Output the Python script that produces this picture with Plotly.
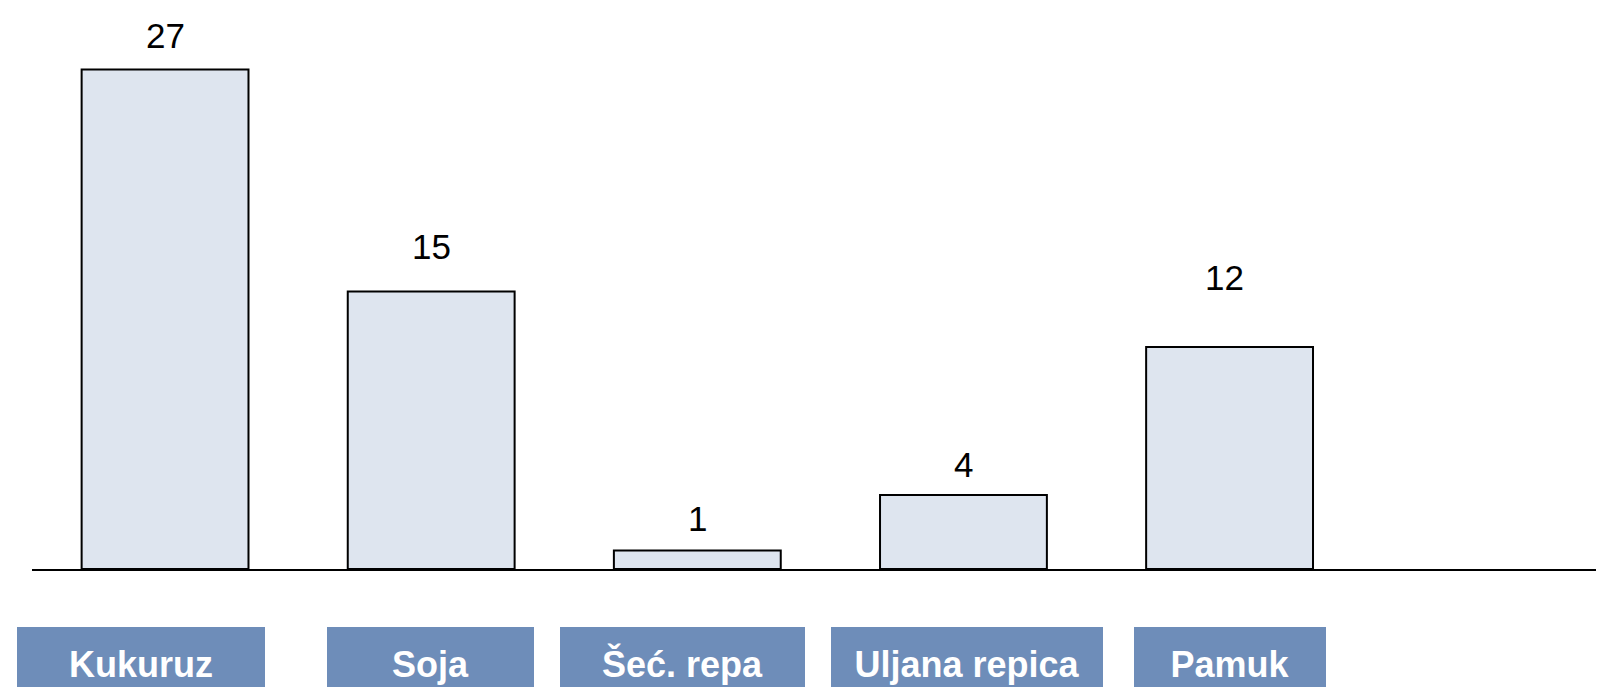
import plotly.graph_objects as go

# ---- data ----
categories = ["Kukuruz", "Soja", "Šeć. repa", "Uljana repica", "Pamuk"]
values = [27, 15, 1, 4, 12]

# ---- styling (label placement, not data) ----
value_label_lift = [34, 45, 32, 30, 69]      # px above bar top (text centre)
value_label_xshift = [0, 0, 0, 0, -5]
cat_box_width = [248, 207, 245, 272, 192]      # px
cat_box_xshift = [-24, -1, -15, 4, 0]          # px relative to bar centre

FONT = "Liberation Sans, Arial, sans-serif"

fig = go.Figure()
fig.add_trace(go.Bar(
    x=categories,
    y=values,
    width=0.627,
    marker=dict(color="#DEE5EF", line=dict(color="#000000", width=2)),
    hoverinfo="x+y",
))

annotations = []
for i, (c, v) in enumerate(zip(categories, values)):
    annotations.append(dict(
        x=c, y=v, xref="x", yref="y",
        text=str(v), showarrow=False,
        yanchor="middle", xanchor="center",
        yshift=value_label_lift[i], xshift=value_label_xshift[i],
        font=dict(family=FONT, size=35, color="#000000"),
    ))
    annotations.append(dict(
        x=c, y=0, xref="x", yref="paper",
        text="<b>" + c + "</b>", showarrow=False,
        yanchor="top", xanchor="center",
        yshift=-58, xshift=cat_box_xshift[i],
        width=cat_box_width[i], height=74,
        bgcolor="#6E8DB9", borderpad=0, borderwidth=0,
        align="center", valign="middle",
        font=dict(family=FONT, size=36, color="#FFFFFF"),
    ))

fig.update_layout(
    width=1604, height=687,
    margin=dict(l=24, r=0, t=0, b=126),
    paper_bgcolor="#FFFFFF",
    plot_bgcolor="#FFFFFF",
    showlegend=False,
    annotations=annotations,
    xaxis=dict(
        type="category",
        range=[-0.5, 5.437],
        showticklabels=False,
        ticks="",
        showgrid=False,
        zeroline=False,
        showline=True,
        linecolor="#000000",
        linewidth=2,
        fixedrange=True,
    ),
    yaxis=dict(
        range=[0, 30.32],
        visible=False,
        showgrid=False,
        zeroline=False,
        fixedrange=True,
    ),
)

fig.write_html("out.html")
